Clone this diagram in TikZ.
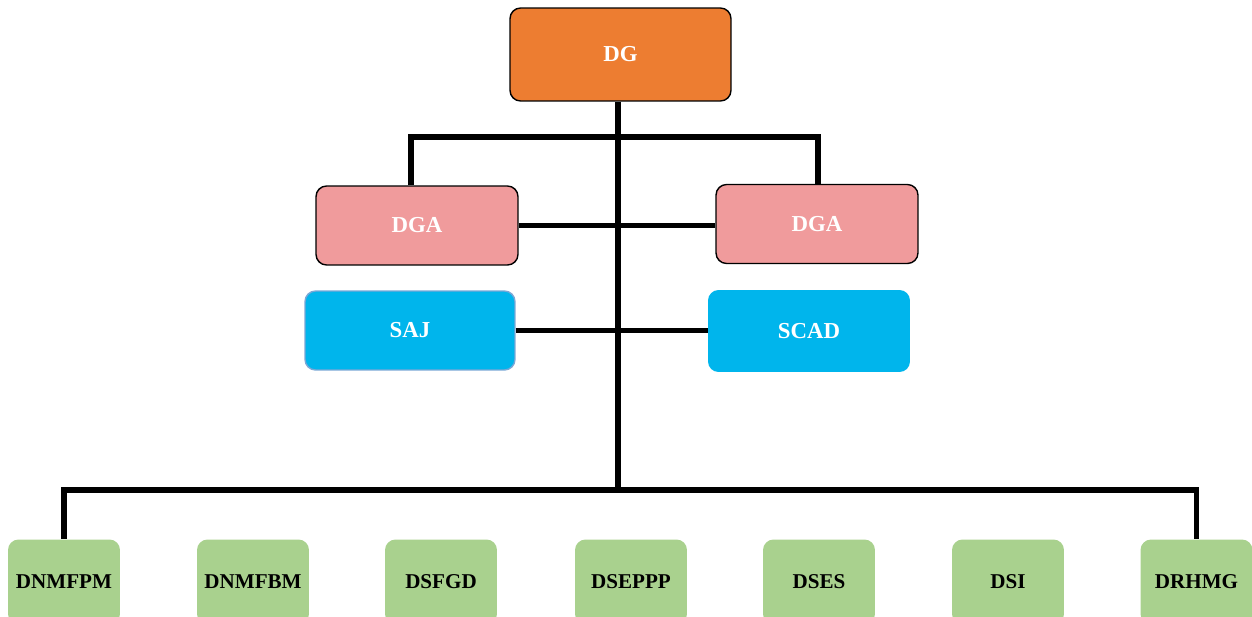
\documentclass[tikz,border=0pt]{standalone}
\usepackage{fontspec}
\setmainfont{Liberation Serif}
\definecolor{dgorange}{HTML}{ED7D31}
\definecolor{dgapink}{HTML}{F09B9C}
\definecolor{servblue}{HTML}{00B5EC}
\definecolor{dirgreen}{HTML}{A9D18E}
\definecolor{sajedge}{HTML}{7AA7D6}
\tikzset{
  boite/.style={rectangle, rounded corners=6pt, align=center, inner sep=2pt,
    font=\fontsize{13}{15}\selectfont\bfseries},
  lien/.style={draw, line width=3pt, line join=miter},
}
\begin{document}
\begin{tikzpicture}[x=0.02cm,y=-0.02cm]
\useasboundingbox (0,0) rectangle (1252,616);
% direction generale
\node[boite, draw=black, line width=0.8pt, fill=dgorange, text=white,
  minimum width=4.42cm, minimum height=1.86cm] (dg) at (620.5,54.5) {DG};
\node[boite, draw=black, line width=0.8pt, fill=dgapink, text=white,
  minimum width=4.04cm, minimum height=1.58cm] (dgaL) at (417,225.5) {DGA};
\node[boite, draw=black, line width=0.8pt, fill=dgapink, text=white,
  minimum width=4.04cm, minimum height=1.58cm] (dgaR) at (817,224) {DGA};
\node[boite, draw=sajedge, line width=0.8pt, fill=servblue, text=white,
  minimum width=4.2cm, minimum height=1.58cm] (saj) at (410,330.5) {SAJ};
\node[boite, fill=servblue, text=white,
  minimum width=4.04cm, minimum height=1.64cm] (scad) at (809,331) {SCAD};
% directions
\newcommand\direction[3]{
\node[boite, fill=dirgreen, text=black, font=\fontsize{12}{14}\selectfont\bfseries,
  minimum width=2.24cm, minimum height=1.7cm] (#1) at (#2,582) {#3};
}
\direction{g1}{64}{DNMFPM}
\direction{g2}{253}{DNMFBM}
\direction{g3}{441}{DSFGD}
\direction{g4}{631}{DSEPPP}
\direction{g5}{819}{DSES}
\direction{g6}{1008}{DSI}
\direction{g7}{1196.5}{DRHMG}
% liaisons
\coordinate (haut) at (618,137);
\coordinate (bas) at (618,490);
\path[lien] (dg.south -| haut) -- (bas);
\path[lien] (dgaL.north -| 411,0) |- (haut) -| (dgaR.north -| 818,0);
\path[lien] (dgaL.east) -- (dgaL.east -| dgaR.west);
\path[lien] (saj.east) -- (saj.east -| scad.west);
\path[lien] (g1.north) |- (bas) -| (g7.north);
\end{tikzpicture}
\end{document}
